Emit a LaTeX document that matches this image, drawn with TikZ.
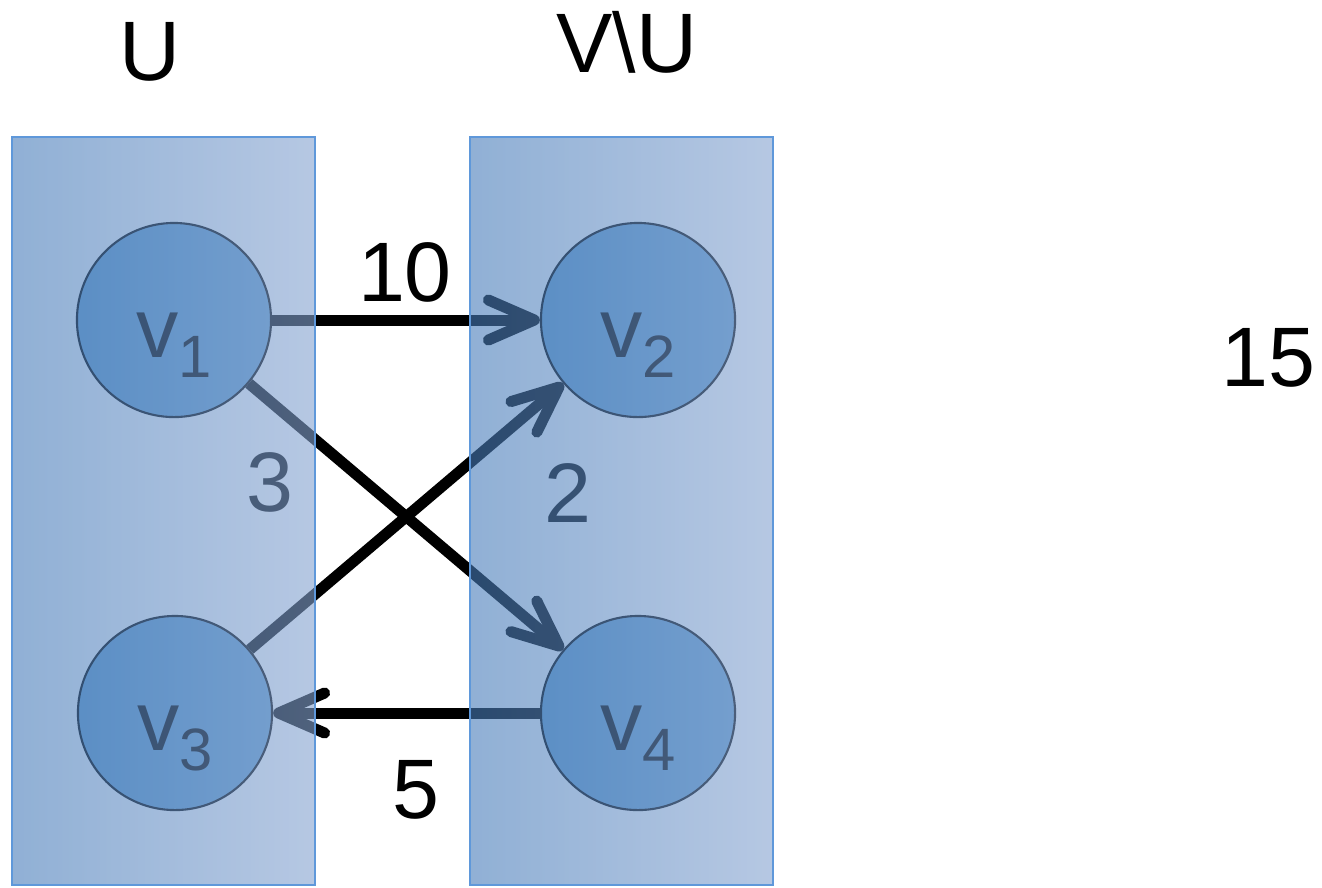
\documentclass[tikz,border=0pt]{standalone}
\usepackage{fontspec}
\setmainfont{Liberation Sans}
\usetikzlibrary{arrows.meta,positioning}
\definecolor{setdark}{RGB}{70,123,185}
\definecolor{setlight}{RGB}{133,163,208}
\definecolor{setline}{RGB}{95,152,218}
\definecolor{vtxblue}{RGB}{104,160,208}
\newcommand{\vname}[1]{v\raisebox{-0.2cm}{\fontsize{17}{17}\selectfont #1}}
\tikzset{
  vertex/.style={circle, draw=black, line width=0.6pt, fill=vtxblue, minimum size=1.94cm, inner sep=0pt},
  cutarc/.style={line width=0.11cm, -{Straight Barb[length=4.6mm,width=4mm,round]}},
  weight/.style={font=\fontsize{24}{28}\selectfont, inner sep=0pt},
  setbox/.style={draw=setline, line width=0.5pt, left color=setdark, right color=setlight, fill opacity=0.6, minimum width=3.03cm, minimum height=7.48cm, inner sep=0pt},
}

\begin{document}
\begin{tikzpicture}[x=0.01cm, y=-0.01cm]
	\useasboundingbox (0,0) rectangle (1322,887);
	% vertices
	\node[vertex] (v1) at (174,320) {};
	\node[vertex] (v2) at (638,320) {};
	\node[vertex] (v3) at (175,713) {};
	\node[vertex] (v4) at (638,713) {};
	\foreach \v in {1,...,4}
		\node[weight, anchor=base] (n\v) at ([yshift=-0.37cm]v\v.center) {\vname{\v}};
	% arcs and their weights
	\draw[cutarc] (v1) -- (v2);
	\draw[cutarc] (v1) -- (v4);
	\draw[cutarc] (v3) -- (v2);
	\draw[cutarc] (v4) -- (v3);
	\node[weight] (w12) at (405,272) {10};
	\node[weight] (w14) at (270,482) {3};
	\node[weight] (w32) at (568,493) {2};
	\node[weight] (w43) at (416,790) {5};
	\node[weight] (total) at (1268,358) {15};
	% the two sides, laid over the graph
	\node[setbox] (U) at (163.5,511) {};
	\node[setbox] (VU) at (621.5,511) {};
	\node[weight] (lU) at (150,52) {U};
	\node[weight] (lVU) at (627,42) {V\textbackslash U};
\end{tikzpicture}
\end{document}
